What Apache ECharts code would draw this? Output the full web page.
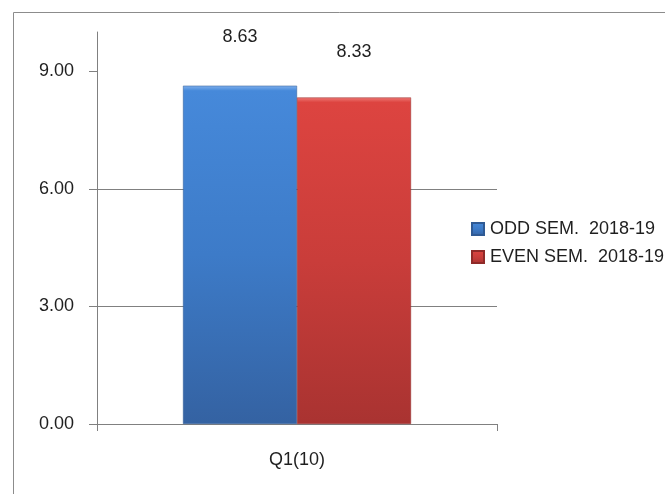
<!DOCTYPE html>
<html>
<head>
<meta charset="utf-8">
<script src="https://cdn.jsdelivr.net/npm/echarts@6/dist/echarts.min.js"></script>
<style>
html,body{margin:0;padding:0;background:#fff;}
#chart{width:665px;height:494px;}
</style>
</head>
<body>
<div id="chart"></div>
<script>
var categories = ['Q1(10)'];
var seriesNames = ['ODD SEM.  2018-19', 'EVEN SEM.  2018-19'];
var oddValues = [8.63];
var evenValues = [8.33];
var yTicks = [0, 3, 6, 9];

var FONT = 'Liberation Sans';
var chart = echarts.init(document.getElementById('chart'));
function grad(hi, top, mid, bottom) {
  return new echarts.graphic.LinearGradient(0, 0, 0, 1, [
    {offset: 0, color: hi}, {offset: 0.015, color: top},
    {offset: 0.5, color: mid}, {offset: 1, color: bottom}
  ]);
}
chart.setOption({
  animation: false,
  textStyle: {fontFamily: FONT},
  graphic: [{
    type: 'rect', left: 11, top: 10, silent: true,
    shape: {width: 700, height: 520},
    style: {fill: 'none', stroke: '#8c8c8c', lineWidth: 1}
  }],
  grid: {left: 97, right: 168, top: 32, bottom: 70},
  legend: {
    orient: 'vertical', left: 466, top: 215,
    itemWidth: 12, itemHeight: 12, itemGap: 10,
    icon: 'rect',
    textStyle: {fontFamily: FONT, fontSize: 18, color: '#1f1f1f', padding: [0, 0, 0, 1]},
    data: seriesNames
  },
  xAxis: {
    type: 'category', data: categories, boundaryGap: true,
    axisLine: {lineStyle: {color: '#808080', width: 1}},
    axisTick: {show: true, length: 7, lineStyle: {color: '#808080'}},
    axisLabel: {fontFamily: FONT, fontSize: 18, color: '#1f1f1f', margin: 27}
  },
  yAxis: {
    type: 'value', min: 0, max: 10, interval: 3,
    axisLine: {show: true, lineStyle: {color: '#808080', width: 1}},
    axisTick: {show: true, length: 8, lineStyle: {color: '#808080'}, customValues: yTicks},
    axisLabel: {fontFamily: FONT, fontSize: 18, color: '#1f1f1f', margin: 23,
      customValues: yTicks,
      formatter: function (v) { return v.toFixed(2); }},
    splitLine: {show: true, showMaxLine: false, lineStyle: {color: '#808080', width: 1}}
  },
  series: [{
    name: seriesNames[0], type: 'bar', data: oddValues,
    barWidth: 114, barGap: '0%',
    itemStyle: {color: grad('#7fb0ec', '#4689da', '#3d7bc8', '#3462a2'), borderColor: '#2f5a94', borderWidth: 0.5},
    label: {show: true, position: 'top', distance: 40, fontFamily: FONT, fontSize: 18, color: '#1f1f1f',
      formatter: function (p) { return p.value.toFixed(2); }}
  }, {
    name: seriesNames[1], type: 'bar', data: evenValues,
    barWidth: 114,
    itemStyle: {color: grad('#ee7a76', '#dd4440', '#c93d3a', '#a93331'), borderColor: '#8f2a28', borderWidth: 0.5},
    label: {show: true, position: 'top', distance: 36, fontFamily: FONT, fontSize: 18, color: '#1f1f1f',
      formatter: function (p) { return p.value.toFixed(2); }}
  }],
  color: ['#3d7bc8', '#c93d3a']
});
</script>
</body>
</html>
